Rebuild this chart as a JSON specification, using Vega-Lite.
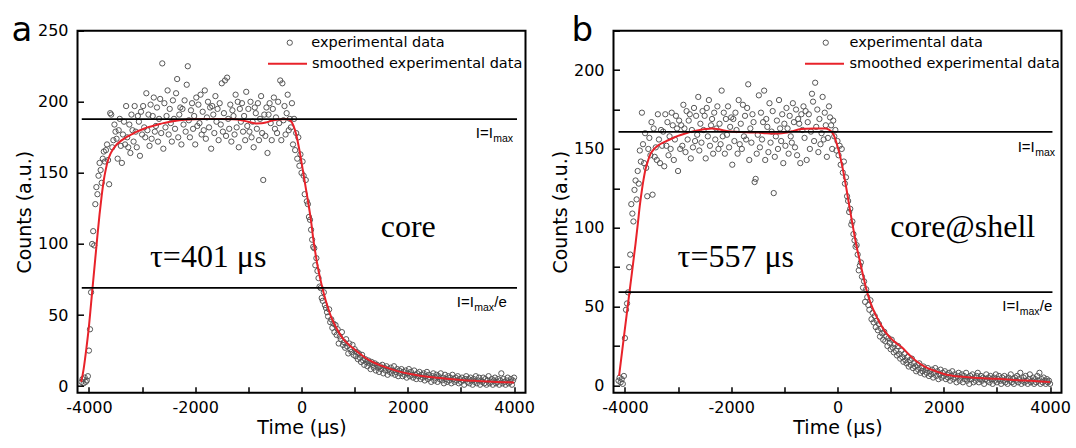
{
"$schema": "https://vega.github.io/schema/vega-lite/v6.json",
"background": "white",
"padding": {"left": 10.5, "top": 12.7, "right": 5, "bottom": 2},
"bounds": "flush",
"spacing": 88,
"datasets": {
"pa": [
{"t":-4140,"c":3},{"t":-4120,"c":5},{"t":-4100,"c":2},{"t":-4080,"c":6},{"t":-4060,"c":3},{"t":-4040,"c":4},{"t":-4020,"c":7},{"t":-4000,"c":25},{"t":-3980,"c":40},{"t":-3960,"c":66},{"t":-3940,"c":100},{"t":-3920,"c":109},{"t":-3900,"c":99},{"t":-3880,"c":128},{"t":-3860,"c":140},{"t":-3840,"c":135},{"t":-3820,"c":148},{"t":-3800,"c":157},{"t":-3780,"c":152},{"t":-3760,"c":143},{"t":-3740,"c":160},{"t":-3720,"c":165},{"t":-3700,"c":158},{"t":-3680,"c":166},{"t":-3660,"c":170},{"t":-3640,"c":159},{"t":-3620,"c":142},{"t":-3600,"c":192},{"t":-3580,"c":191},{"t":-3560,"c":168},{"t":-3540,"c":173},{"t":-3520,"c":184},{"t":-3500,"c":179},
{"t":-3480,"c":174},{"t":-3460,"c":160},{"t":-3440,"c":180},{"t":-3420,"c":188},{"t":-3400,"c":169},{"t":-3380,"c":157},{"t":-3360,"c":177},{"t":-3340,"c":186},{"t":-3320,"c":170},{"t":-3300,"c":197},{"t":-3280,"c":175},{"t":-3260,"c":168},{"t":-3240,"c":184},{"t":-3220,"c":164},{"t":-3200,"c":191},{"t":-3180,"c":180},{"t":-3160,"c":172},{"t":-3140,"c":197},{"t":-3120,"c":179},{"t":-3100,"c":168},{"t":-3080,"c":190},{"t":-3060,"c":186},{"t":-3040,"c":162},{"t":-3020,"c":193},{"t":-3000,"c":177},{"t":-2980,"c":197},{"t":-2960,"c":182},{"t":-2940,"c":175},{"t":-2920,"c":206},{"t":-2900,"c":180},{"t":-2880,"c":191},{"t":-2860,"c":169},{"t":-2840,"c":198},{"t":-2820,"c":174},{"t":-2800,"c":190},{"t":-2780,"c":203},{"t":-2760,"c":179},{"t":-2740,"c":183},{"t":-2720,"c":196},{"t":-2700,"c":172},{"t":-2680,"c":188},{"t":-2660,"c":202},{"t":-2640,"c":178},{"t":-2620,"c":227},{"t":-2600,"c":167},{"t":-2580,"c":199},{"t":-2560,"c":182},{"t":-2540,"c":190},{"t":-2520,"c":208},{"t":-2500,"c":177},{"t":-2480,"c":195},{"t":-2460,"c":185},{"t":-2440,"c":172},{"t":-2420,"c":201},{"t":-2400,"c":188},{"t":-2380,"c":181},{"t":-2360,"c":206},{"t":-2340,"c":216},{"t":-2320,"c":175},{"t":-2300,"c":191},{"t":-2280,"c":196},{"t":-2260,"c":170},{"t":-2240,"c":195},{"t":-2220,"c":184},{"t":-2200,"c":201},{"t":-2180,"c":179},{"t":-2160,"c":212},{"t":-2140,"c":225},{"t":-2120,"c":187},{"t":-2100,"c":175},{"t":-2080,"c":194},{"t":-2060,"c":199},{"t":-2040,"c":181},{"t":-2020,"c":190},{"t":-2000,"c":170},{"t":-1980,"c":203},{"t":-1960,"c":183},{"t":-1940,"c":198},{"t":-1920,"c":185},{"t":-1900,"c":205},{"t":-1880,"c":177},{"t":-1860,"c":193},{"t":-1840,"c":180},{"t":-1820,"c":208},{"t":-1800,"c":174},{"t":-1780,"c":189},{"t":-1760,"c":200},{"t":-1740,"c":182},{"t":-1720,"c":196},{"t":-1700,"c":167},{"t":-1680,"c":197},{"t":-1660,"c":191},{"t":-1640,"c":178},{"t":-1620,"c":204},{"t":-1600,"c":186},{"t":-1580,"c":195},{"t":-1560,"c":173},{"t":-1540,"c":199},{"t":-1520,"c":184},{"t":-1500,"c":213},{"t":-1480,"c":179},{"t":-1460,"c":192},{"t":-1440,"c":215},{"t":-1420,"c":176},{"t":-1400,"c":217},{"t":-1380,"c":188},{"t":-1360,"c":181},{"t":-1340,"c":198},{"t":-1320,"c":172},{"t":-1300,"c":194},{"t":-1280,"c":190},{"t":-1260,"c":177},{"t":-1240,"c":205},{"t":-1220,"c":182},{"t":-1200,"c":200},{"t":-1180,"c":168},{"t":-1160,"c":195},{"t":-1140,"c":186},{"t":-1120,"c":199},{"t":-1100,"c":179},{"t":-1080,"c":190},{"t":-1060,"c":173},{"t":-1040,"c":207},{"t":-1020,"c":183},{"t":-1000,"c":195},{"t":-980,"c":179},{"t":-960,"c":200},{"t":-940,"c":175},{"t":-920,"c":186},{"t":-900,"c":168},{"t":-880,"c":196},{"t":-860,"c":192},{"t":-840,"c":181},{"t":-820,"c":199},{"t":-800,"c":173},{"t":-780,"c":188},{"t":-760,"c":204},{"t":-740,"c":178},{"t":-720,"c":145},{"t":-700,"c":191},{"t":-680,"c":176},{"t":-660,"c":196},{"t":-640,"c":164},{"t":-620,"c":191},{"t":-600,"c":199},{"t":-580,"c":185},{"t":-560,"c":173},{"t":-540,"c":195},{"t":-520,"c":203},{"t":-500,"c":181},{"t":-480,"c":189},{"t":-460,"c":178},{"t":-440,"c":200},{"t":-420,"c":185},{"t":-400,"c":215},{"t":-380,"c":173},{"t":-360,"c":213},{"t":-340,"c":187},{"t":-320,"c":197},{"t":-300,"c":177},{"t":-280,"c":192},{"t":-260,"c":205},{"t":-240,"c":180},{"t":-220,"c":188},{"t":-200,"c":182},{"t":-180,"c":199},
{"t":-160,"c":170},{"t":-140,"c":188},{"t":-120,"c":166},{"t":-100,"c":178},{"t":-80,"c":160},{"t":-60,"c":175},{"t":-40,"c":155},{"t":-20,"c":163},{"t":0,"c":150},{"t":20,"c":158},{"t":40,"c":148},{"t":60,"c":135},{"t":80,"c":145},{"t":100,"c":130},{"t":120,"c":128},{"t":140,"c":119},{"t":160,"c":117},{"t":180,"c":110},{"t":200,"c":103},{"t":220,"c":98},{"t":240,"c":97},{"t":260,"c":85},{"t":280,"c":90},{"t":300,"c":81},{"t":320,"c":76},{"t":340,"c":70},{"t":360,"c":69},{"t":380,"c":62},{"t":400,"c":60},{"t":420,"c":66},{"t":440,"c":57},{"t":460,"c":55},{"t":480,"c":52},{"t":500,"c":49},{"t":520,"c":54},{"t":540,"c":45},{"t":560,"c":47},{"t":580,"c":41},{"t":600,"c":44},{"t":620,"c":38},{"t":640,"c":43},{"t":660,"c":36},{"t":680,"c":40},{"t":700,"c":30},{"t":720,"c":35},{"t":740,"c":33},{"t":760,"c":38},{"t":780,"c":29},{"t":800,"c":31},{"t":820,"c":27},{"t":840,"c":33},{"t":860,"c":28},{"t":880,"c":23},{"t":900,"c":30},{"t":920,"c":26},{"t":940,"c":24},{"t":960,"c":29},{"t":980,"c":22},{"t":1000,"c":26},{"t":1020,"c":21},{"t":1040,"c":24},{"t":1060,"c":19},{"t":1080,"c":23},{"t":1100,"c":20},{"t":1120,"c":17},{"t":1140,"c":22},{"t":1160,"c":18},{"t":1180,"c":15},{"t":1200,"c":19},{"t":1220,"c":17},{"t":1240,"c":14},{"t":1260,"c":18},{"t":1280,"c":16},{"t":1300,"c":12},{"t":1320,"c":17},{"t":1340,"c":15},{"t":1360,"c":13},{"t":1380,"c":16},{"t":1400,"c":11},{"t":1420,"c":15},{"t":1440,"c":13},{"t":1460,"c":10},{"t":1480,"c":14},{"t":1500,"c":12},{"t":1520,"c":15},{"t":1540,"c":9},{"t":1560,"c":13},{"t":1580,"c":11},{"t":1600,"c":14},{"t":1620,"c":8},{"t":1640,"c":12},{"t":1660,"c":10},{"t":1680,"c":13},{"t":1700,"c":9},{"t":1720,"c":11},{"t":1740,"c":14},{"t":1760,"c":8},{"t":1780,"c":10},{"t":1800,"c":12},{"t":1820,"c":7},{"t":1840,"c":11},{"t":1860,"c":9},{"t":1880,"c":12},{"t":1900,"c":7},{"t":1920,"c":10},{"t":1940,"c":8},{"t":1960,"c":11},{"t":1980,"c":6},{"t":2000,"c":9},{"t":2020,"c":12},{"t":2040,"c":7},{"t":2060,"c":10},{"t":2080,"c":8},{"t":2100,"c":6},{"t":2120,"c":11},{"t":2140,"c":8},{"t":2160,"c":5},{"t":2180,"c":9},{"t":2200,"c":7},{"t":2220,"c":10},{"t":2240,"c":5},{"t":2260,"c":8},{"t":2280,"c":6},{"t":2300,"c":9},{"t":2320,"c":4},{"t":2340,"c":7},{"t":2360,"c":10},{"t":2380,"c":5},{"t":2400,"c":8},{"t":2420,"c":6},{"t":2440,"c":3},{"t":2460,"c":7},{"t":2480,"c":9},{"t":2500,"c":4},{"t":2520,"c":6},{"t":2540,"c":8},{"t":2560,"c":3},{"t":2580,"c":7},{"t":2600,"c":5},{"t":2620,"c":9},{"t":2640,"c":4},{"t":2660,"c":6},{"t":2680,"c":2},{"t":2700,"c":8},{"t":2720,"c":5},{"t":2740,"c":3},{"t":2760,"c":7},{"t":2780,"c":4},{"t":2800,"c":6},{"t":2820,"c":2},{"t":2840,"c":8},{"t":2860,"c":5},{"t":2880,"c":3},{"t":2900,"c":6},{"t":2920,"c":4},{"t":2940,"c":7},{"t":2960,"c":2},{"t":2980,"c":5},{"t":3000,"c":3},{"t":3020,"c":6},{"t":3040,"c":4},{"t":3060,"c":1},{"t":3080,"c":5},{"t":3100,"c":7},{"t":3120,"c":3},{"t":3140,"c":5},{"t":3160,"c":2},{"t":3180,"c":6},{"t":3200,"c":4},{"t":3220,"c":1},{"t":3240,"c":5},{"t":3260,"c":3},{"t":3280,"c":7},{"t":3300,"c":2},{"t":3320,"c":4},{"t":3340,"c":6},{"t":3360,"c":1},{"t":3380,"c":4},{"t":3400,"c":3},{"t":3420,"c":6},{"t":3440,"c":2},{"t":3460,"c":5},{"t":3480,"c":1},{"t":3500,"c":4},{"t":3520,"c":7},{"t":3540,"c":2},{"t":3560,"c":3},{"t":3580,"c":5},{"t":3600,"c":1},{"t":3620,"c":4},{"t":3640,"c":6},{"t":3660,"c":2},{"t":3680,"c":3},{"t":3700,"c":5},{"t":3720,"c":1},{"t":3740,"c":4},{"t":3760,"c":9},{"t":3780,"c":2},{"t":3800,"c":5},{"t":3820,"c":3},{"t":3840,"c":1},{"t":3860,"c":4},{"t":3880,"c":6},{"t":3900,"c":2},{"t":3920,"c":3},{"t":3940,"c":5},{"t":3960,"c":1},{"t":3980,"c":4},{"t":4000,"c":6}
],
"sa": [
{"t":-4145,"c":3},{"t":-4100,"c":12},{"t":-4050,"c":26},{"t":-4000,"c":42},{"t":-3960,"c":58},{"t":-3920,"c":74},{"t":-3880,"c":90},{"t":-3840,"c":106},{"t":-3800,"c":121},{"t":-3760,"c":134},{"t":-3720,"c":145},{"t":-3680,"c":153},{"t":-3640,"c":159},{"t":-3600,"c":163},{"t":-3550,"c":166.5},{"t":-3500,"c":169},{"t":-3400,"c":172.5},{"t":-3300,"c":175},{"t":-3200,"c":177},{"t":-3100,"c":179},{"t":-3000,"c":180.5},{"t":-2900,"c":182},{"t":-2800,"c":183},{"t":-2700,"c":184},{"t":-2600,"c":185},{"t":-2500,"c":185.8},{"t":-2400,"c":186.5},{"t":-2300,"c":187},{"t":-2200,"c":187.4},{"t":-2000,"c":187.8},{"t":-1500,"c":187.9},{"t":-1300,"c":187.7},{"t":-1150,"c":187.2},{"t":-1050,"c":186.4},{"t":-950,"c":185.4},{"t":-850,"c":184.8},{"t":-750,"c":184.9},{"t":-650,"c":185.7},{"t":-550,"c":186.8},{"t":-450,"c":187.5},{"t":-350,"c":187.8},{"t":-260,"c":187.8},{"t":-200,"c":186.5},{"t":-150,"c":183},{"t":-100,"c":177},{"t":-60,"c":170},{"t":-20,"c":162},{"t":20,"c":153},{"t":60,"c":144},{"t":100,"c":135},{"t":140,"c":126},{"t":180,"c":116},{"t":220,"c":104},{"t":260,"c":94},{"t":300,"c":85},{"t":350,"c":76},{"t":400,"c":68},{"t":450,"c":61},{"t":500,"c":55},{"t":560,"c":48.5},{"t":620,"c":43.5},{"t":700,"c":38},{"t":800,"c":32.5},{"t":900,"c":28.8},{"t":1000,"c":25.8},{"t":1100,"c":22.8},{"t":1200,"c":20},{"t":1350,"c":16.8},{"t":1500,"c":14.4},{"t":1700,"c":11.8},{"t":1900,"c":9.7},{"t":2000,"c":8.9},{"t":2200,"c":7.5},{"t":2500,"c":6},{"t":2800,"c":5},{"t":3000,"c":4.4},{"t":3300,"c":3.7},{"t":3600,"c":3.1},{"t":4000,"c":2.6}
],
"pb": [
{"t":-4120,"c":3},{"t":-4100,"c":5},{"t":-4080,"c":2},{"t":-4060,"c":4},{"t":-4040,"c":1},{"t":-4020,"c":6},{"t":-4000,"c":30},{"t":-3980,"c":48},{"t":-3960,"c":52},{"t":-3940,"c":59},{"t":-3920,"c":75},{"t":-3900,"c":83},{"t":-3880,"c":115},{"t":-3860,"c":109},{"t":-3840,"c":104},{"t":-3820,"c":124},{"t":-3800,"c":130},{"t":-3780,"c":118},{"t":-3760,"c":136},{"t":-3740,"c":128},{"t":-3720,"c":149},{"t":-3700,"c":142},{"t":-3680,"c":173},{"t":-3660,"c":153},{"t":-3640,"c":141},{"t":-3620,"c":160},{"t":-3600,"c":138},{"t":-3580,"c":120},{"t":-3560,"c":150},{"t":-3540,"c":157},{"t":-3520,"c":146},{"t":-3500,"c":167},{"t":-3480,"c":121},
{"t":-3460,"c":163},{"t":-3440,"c":145},{"t":-3420,"c":151},{"t":-3400,"c":143},{"t":-3380,"c":172},{"t":-3360,"c":156},{"t":-3340,"c":141},{"t":-3320,"c":162},{"t":-3300,"c":152},{"t":-3280,"c":161},{"t":-3260,"c":139},{"t":-3240,"c":172},{"t":-3220,"c":152},{"t":-3200,"c":167},{"t":-3180,"c":146},{"t":-3160,"c":158},{"t":-3140,"c":150},{"t":-3120,"c":173},{"t":-3100,"c":165},{"t":-3080,"c":143},{"t":-3060,"c":156},{"t":-3040,"c":171},{"t":-3020,"c":163},{"t":-3000,"c":136},{"t":-2980,"c":168},{"t":-2960,"c":150},{"t":-2940,"c":165},{"t":-2920,"c":152},{"t":-2900,"c":178},{"t":-2880,"c":163},{"t":-2860,"c":148},{"t":-2840,"c":174},{"t":-2820,"c":156},{"t":-2800,"c":168},{"t":-2780,"c":172},{"t":-2760,"c":144},{"t":-2740,"c":162},{"t":-2720,"c":151},{"t":-2700,"c":176},{"t":-2680,"c":155},{"t":-2660,"c":171},{"t":-2640,"c":159},{"t":-2620,"c":183},{"t":-2600,"c":149},{"t":-2580,"c":166},{"t":-2560,"c":154},{"t":-2540,"c":174},{"t":-2520,"c":162},{"t":-2500,"c":171},{"t":-2480,"c":144},{"t":-2460,"c":176},{"t":-2440,"c":158},{"t":-2420,"c":181},{"t":-2400,"c":152},{"t":-2380,"c":165},{"t":-2360,"c":169},{"t":-2340,"c":147},{"t":-2320,"c":173},{"t":-2300,"c":156},{"t":-2280,"c":163},{"t":-2260,"c":177},{"t":-2240,"c":150},{"t":-2220,"c":166},{"t":-2200,"c":153},{"t":-2180,"c":187},{"t":-2160,"c":158},{"t":-2140,"c":173},{"t":-2120,"c":147},{"t":-2100,"c":169},{"t":-2080,"c":159},{"t":-2060,"c":177},{"t":-2040,"c":151},{"t":-2020,"c":164},{"t":-2000,"c":170},{"t":-1980,"c":140},{"t":-1960,"c":169},{"t":-1940,"c":155},{"t":-1920,"c":173},{"t":-1900,"c":162},{"t":-1880,"c":147},{"t":-1860,"c":181},{"t":-1840,"c":153},{"t":-1820,"c":166},{"t":-1800,"c":150},{"t":-1780,"c":178},{"t":-1760,"c":158},{"t":-1740,"c":171},{"t":-1720,"c":156},{"t":-1700,"c":176},{"t":-1680,"c":191},{"t":-1660,"c":143},{"t":-1640,"c":163},{"t":-1620,"c":154},{"t":-1600,"c":172},{"t":-1580,"c":167},{"t":-1560,"c":129},{"t":-1540,"c":131},{"t":-1520,"c":147},{"t":-1500,"c":159},{"t":-1480,"c":184},{"t":-1460,"c":151},{"t":-1440,"c":173},{"t":-1420,"c":156},{"t":-1400,"c":167},{"t":-1380,"c":187},{"t":-1360,"c":143},{"t":-1340,"c":169},{"t":-1320,"c":164},{"t":-1300,"c":148},{"t":-1280,"c":179},{"t":-1260,"c":154},{"t":-1240,"c":161},{"t":-1220,"c":174},{"t":-1200,"c":122},{"t":-1180,"c":145},{"t":-1160,"c":158},{"t":-1140,"c":168},{"t":-1120,"c":150},{"t":-1100,"c":181},{"t":-1080,"c":163},{"t":-1060,"c":155},{"t":-1040,"c":172},{"t":-1020,"c":141},{"t":-1000,"c":166},{"t":-980,"c":152},{"t":-960,"c":176},{"t":-940,"c":163},{"t":-920,"c":147},{"t":-900,"c":171},{"t":-880,"c":158},{"t":-860,"c":154},{"t":-840,"c":179},{"t":-820,"c":167},{"t":-800,"c":151},{"t":-780,"c":175},{"t":-760,"c":146},{"t":-740,"c":169},{"t":-720,"c":166},{"t":-700,"c":141},{"t":-680,"c":172},{"t":-660,"c":162},{"t":-640,"c":177},{"t":-620,"c":157},{"t":-600,"c":174},{"t":-580,"c":143},{"t":-560,"c":167},{"t":-540,"c":172},{"t":-520,"c":150},{"t":-500,"c":161},{"t":-480,"c":185},{"t":-460,"c":180},{"t":-440,"c":155},{"t":-420,"c":192},{"t":-400,"c":164},{"t":-380,"c":175},{"t":-360,"c":148},{"t":-340,"c":169},{"t":-320,"c":153},{"t":-300,"c":160},{"t":-280,"c":183},{"t":-260,"c":156},{"t":-240,"c":173},{"t":-220,"c":165},{"t":-200,"c":145},{"t":-180,"c":157},{"t":-160,"c":177},{"t":-140,"c":170},
{"t":-120,"c":165},{"t":-100,"c":150},{"t":-80,"c":168},{"t":-60,"c":158},{"t":-40,"c":162},{"t":-20,"c":149},{"t":0,"c":155},{"t":20,"c":146},{"t":40,"c":152},{"t":60,"c":140},{"t":80,"c":150},{"t":100,"c":135},{"t":120,"c":142},{"t":140,"c":128},{"t":160,"c":132},{"t":180,"c":120},{"t":200,"c":117},{"t":220,"c":110},{"t":240,"c":112},{"t":260,"c":102},{"t":280,"c":104},{"t":300,"c":96},{"t":320,"c":92},{"t":340,"c":88},{"t":360,"c":89},{"t":380,"c":83},{"t":400,"c":73},{"t":420,"c":76},{"t":440,"c":78},{"t":460,"c":69},{"t":480,"c":62},{"t":500,"c":66},{"t":520,"c":53},{"t":540,"c":61},{"t":560,"c":56},{"t":580,"c":51},{"t":600,"c":48},{"t":620,"c":54},{"t":640,"c":42},{"t":660,"c":46},{"t":680,"c":40},{"t":700,"c":44},{"t":720,"c":37},{"t":740,"c":41},{"t":760,"c":35},{"t":780,"c":39},{"t":800,"c":31},{"t":820,"c":36},{"t":840,"c":33},{"t":860,"c":29},{"t":880,"c":34},{"t":900,"c":28},{"t":920,"c":31},{"t":940,"c":25},{"t":960,"c":30},{"t":980,"c":27},{"t":1000,"c":23},{"t":1020,"c":29},{"t":1040,"c":24},{"t":1060,"c":21},{"t":1080,"c":26},{"t":1100,"c":22},{"t":1120,"c":19},{"t":1140,"c":25},{"t":1160,"c":20},{"t":1180,"c":17},{"t":1200,"c":22},{"t":1220,"c":18},{"t":1240,"c":15},{"t":1260,"c":20},{"t":1280,"c":16},{"t":1300,"c":14},{"t":1320,"c":18},{"t":1340,"c":12},{"t":1360,"c":16},{"t":1380,"c":13},{"t":1400,"c":17},{"t":1420,"c":11},{"t":1440,"c":14},{"t":1460,"c":12},{"t":1480,"c":9},{"t":1500,"c":13},{"t":1520,"c":10},{"t":1540,"c":14},{"t":1560,"c":8},{"t":1580,"c":11},{"t":1600,"c":9},{"t":1620,"c":12},{"t":1640,"c":7},{"t":1660,"c":10},{"t":1680,"c":8},{"t":1700,"c":11},{"t":1720,"c":6},{"t":1740,"c":9},{"t":1760,"c":7},{"t":1780,"c":10},{"t":1800,"c":5},{"t":1820,"c":8},{"t":1840,"c":11},{"t":1860,"c":6},{"t":1880,"c":9},{"t":1900,"c":4},{"t":1920,"c":7},{"t":1940,"c":10},{"t":1960,"c":5},{"t":1980,"c":8},{"t":2000,"c":6},{"t":2020,"c":9},{"t":2040,"c":4},{"t":2060,"c":7},{"t":2080,"c":5},{"t":2100,"c":8},{"t":2120,"c":3},{"t":2140,"c":6},{"t":2160,"c":9},{"t":2180,"c":4},{"t":2200,"c":7},{"t":2220,"c":5},{"t":2240,"c":2},{"t":2260,"c":6},{"t":2280,"c":8},{"t":2300,"c":3},{"t":2320,"c":5},{"t":2340,"c":7},{"t":2360,"c":2},{"t":2380,"c":6},{"t":2400,"c":4},{"t":2420,"c":8},{"t":2440,"c":3},{"t":2460,"c":5},{"t":2480,"c":1},{"t":2500,"c":6},{"t":2520,"c":4},{"t":2540,"c":7},{"t":2560,"c":2},{"t":2580,"c":5},{"t":2600,"c":3},{"t":2620,"c":6},{"t":2640,"c":8},{"t":2660,"c":2},{"t":2680,"c":4},{"t":2700,"c":6},{"t":2720,"c":3},{"t":2740,"c":5},{"t":2760,"c":1},{"t":2780,"c":4},{"t":2800,"c":7},{"t":2820,"c":3},{"t":2840,"c":5},{"t":2860,"c":2},{"t":2880,"c":6},{"t":2900,"c":4},{"t":2920,"c":1},{"t":2940,"c":5},{"t":2960,"c":3},{"t":2980,"c":7},{"t":3000,"c":2},{"t":3020,"c":4},{"t":3040,"c":6},{"t":3060,"c":3},{"t":3080,"c":1},{"t":3100,"c":5},{"t":3120,"c":3},{"t":3140,"c":6},{"t":3160,"c":2},{"t":3180,"c":4},{"t":3200,"c":1},{"t":3220,"c":5},{"t":3240,"c":3},{"t":3260,"c":7},{"t":3280,"c":2},{"t":3300,"c":4},{"t":3320,"c":1},{"t":3340,"c":5},{"t":3360,"c":3},{"t":3380,"c":6},{"t":3400,"c":2},{"t":3420,"c":4},{"t":3440,"c":8},{"t":3460,"c":1},{"t":3480,"c":3},{"t":3500,"c":5},{"t":3520,"c":2},{"t":3540,"c":6},{"t":3560,"c":3},{"t":3580,"c":1},{"t":3600,"c":4},{"t":3620,"c":7},{"t":3640,"c":2},{"t":3660,"c":3},{"t":3680,"c":5},{"t":3700,"c":1},{"t":3720,"c":4},{"t":3740,"c":2},{"t":3760,"c":6},{"t":3780,"c":3},{"t":3800,"c":8},{"t":3820,"c":1},{"t":3840,"c":4},{"t":3860,"c":2},{"t":3880,"c":5},{"t":3900,"c":3},{"t":3920,"c":1},{"t":3940,"c":4},{"t":3960,"c":2},{"t":3980,"c":3},{"t":4000,"c":1}
],
"sb": [
{"t":-4110,"c":6},{"t":-4000,"c":36},{"t":-3900,"c":63},{"t":-3800,"c":90},{"t":-3756,"c":103},{"t":-3720,"c":114},{"t":-3680,"c":124},{"t":-3650,"c":130.5},{"t":-3617,"c":136.5},{"t":-3570,"c":142},{"t":-3523,"c":146.5},{"t":-3450,"c":150},{"t":-3367,"c":152.4},{"t":-3250,"c":154.5},{"t":-3116,"c":156.6},{"t":-3000,"c":158.3},{"t":-2865,"c":159.8},{"t":-2740,"c":161},{"t":-2615,"c":161.9},{"t":-2490,"c":162.6},{"t":-2365,"c":163},{"t":-2240,"c":162.5},{"t":-2113,"c":161.5},{"t":-2000,"c":161},{"t":-1863,"c":160.8},{"t":-1650,"c":160.5},{"t":-1487,"c":160.4},{"t":-1350,"c":160},{"t":-1237,"c":159.8},{"t":-1100,"c":159.8},{"t":-985,"c":160.2},{"t":-860,"c":161.2},{"t":-735,"c":162.3},{"t":-600,"c":162.8},{"t":-421,"c":163},{"t":-233,"c":163},{"t":-160,"c":162.3},{"t":-109,"c":160.8},{"t":-60,"c":158},{"t":-15,"c":153.5},{"t":30,"c":148},{"t":79,"c":140.8},{"t":130,"c":132},{"t":173,"c":123.8},{"t":236,"c":111},{"t":300,"c":99},{"t":360,"c":88},{"t":420,"c":79},{"t":490,"c":68.5},{"t":557,"c":59.2},{"t":620,"c":52.5},{"t":700,"c":46},{"t":800,"c":39.5},{"t":900,"c":34},{"t":1000,"c":30},{"t":1100,"c":27},{"t":1200,"c":24.5},{"t":1350,"c":19.5},{"t":1500,"c":15},{"t":1650,"c":11.8},{"t":1800,"c":9.6},{"t":2000,"c":7.3},{"t":2300,"c":5.6},{"t":2600,"c":4.8},{"t":3000,"c":4.2},{"t":3400,"c":3.3},{"t":3700,"c":2.8},{"t":4000,"c":2.1}
],
"refA": [
{"y":187.8,"x1":-4135,"x2":4055,"lx":3279,"ly":174.4,"pre":"I=I","sub":"max","post":""},
{"y":69.1,"x1":-4135,"x2":4055,"lx":2921,"ly":56,"pre":"I=I","sub":"max","post":"/e"}
],
"refB": [
{"y":160.8,"x1":-4120,"x2":4045,"lx":3390,"ly":148,"pre":"I=I","sub":"max","post":""},
{"y":59.2,"x1":-4120,"x2":4045,"lx":3100,"ly":47,"pre":"I=I","sub":"max","post":"/e"}
],
"noteA": [
{"x":-2851,"y":83.6,"txt":"τ=401 μs"},
{"x":1490,"y":104.7,"txt":"core"}
],
"noteB": [
{"x":-3010,"y":74.9,"txt":"τ=557 μs"},
{"x":994,"y":94,"txt":"core@shell"}
]
},
"hconcat": [
{
"width": 448, "height": 362,
"title": {"text": "a", "anchor": "start", "frame": "group", "dx": -66, "dy": 52, "baseline": "alphabetic", "offset": 0},
"layer": [
{"data": {"name": "pa"},
 "mark": {"type": "point", "filled": false, "size": 28, "strokeWidth": 1, "opacity": 1, "color": "#555555"},
 "encoding": {
  "x": {"field": "t", "type": "quantitative", "title": "Time (μs)", "scale": {"domain": [-4215, 4215], "nice": false, "zero": false},
        "axis": {"values": [-4000,-3000,-2000,-1000,0,1000,2000,3000,4000], "labelExpr": "datum.value % 2000 === 0 ? '' + datum.value : ''", "ticks": true, "tickSize": 6, "offset": -6, "zindex": 1, "labelPadding": 7, "titlePadding": 3}},
  "y": {"field": "c", "type": "quantitative", "title": "Counts (a.u.)", "scale": {"domain": [-4.6, 250], "nice": false, "zero": false},
        "axis": {"values": [0,25,50,75,100,125,150,175,200,225,250], "labelExpr": "datum.value % 50 === 0 ? '' + datum.value : ''", "ticks": true, "tickSize": 6, "offset": -6, "zindex": 1, "labelPadding": 9.5, "titlePadding": 3}},
  "shape": {"datum": "experimental data", "type": "nominal", "scale": {"domain": ["experimental data"], "range": ["circle"]},
        "legend": {"orient": "none", "legendX": 205, "legendY": 4.75, "title": null, "labelFont": "DejaVu Sans", "labelFontSize": 14.5, "labelColor": "black", "labelOffset": 14.3, "labelLimit": 400, "symbolSize": 28, "symbolStrokeColor": "#555555", "symbolFillColor": "transparent", "symbolStrokeWidth": 1, "padding": 0}}
 }},
{"data": {"name": "sa"},
 "mark": {"type": "line", "strokeWidth": 2, "interpolate": "monotone"},
 "encoding": {
  "x": {"field": "t", "type": "quantitative", "title": "Time (μs)"},
  "y": {"field": "c", "type": "quantitative", "title": "Counts (a.u.)"},
  "stroke": {"datum": "smoothed experimental data", "type": "nominal", "scale": {"domain": ["smoothed experimental data"], "range": ["#e8222a"]},
        "legend": {"orient": "none", "legendX": 189.5, "legendY": 12.5, "title": null, "labelFont": "DejaVu Sans", "labelFontSize": 14.5, "labelColor": "black", "labelOffset": 4, "labelLimit": 400, "symbolType": "stroke", "symbolSize": 1521, "symbolStrokeWidth": 2, "padding": 0}}
 }},
{"data": {"name": "refA"},
 "mark": {"type": "rule", "color": "black", "strokeWidth": 1.6},
 "encoding": {
  "x": {"field": "x1", "type": "quantitative", "title": "Time (μs)"},
  "x2": {"field": "x2"},
  "y": {"field": "y", "type": "quantitative", "title": "Counts (a.u.)"}
 }},
{"data": {"name": "refA"},
 "mark": {"type": "text", "align": "left", "baseline": "alphabetic", "font": "Liberation Sans", "fontSize": 15, "color": "black"},
 "encoding": {"x": {"field": "lx", "type": "quantitative", "title": "Time (μs)"}, "y": {"field": "ly", "type": "quantitative", "title": "Counts (a.u.)"}, "text": {"field": "pre"}}},
{"data": {"name": "refA"},
 "mark": {"type": "text", "align": "left", "baseline": "alphabetic", "font": "Liberation Sans", "fontSize": 10.5, "color": "black", "dx": 17.5, "dy": 4},
 "encoding": {"x": {"field": "lx", "type": "quantitative", "title": "Time (μs)"}, "y": {"field": "ly", "type": "quantitative", "title": "Counts (a.u.)"}, "text": {"field": "sub"}}},
{"data": {"name": "refA"},
 "mark": {"type": "text", "align": "left", "baseline": "alphabetic", "font": "Liberation Sans", "fontSize": 15, "color": "black", "dx": 37.5},
 "encoding": {"x": {"field": "lx", "type": "quantitative", "title": "Time (μs)"}, "y": {"field": "ly", "type": "quantitative", "title": "Counts (a.u.)"}, "text": {"field": "post"}}},
{"data": {"name": "noteA"},
 "mark": {"type": "text", "align": "left", "baseline": "alphabetic", "font": "Liberation Serif", "fontSize": 32, "color": "black"},
 "encoding": {"x": {"field": "x", "type": "quantitative", "title": "Time (μs)"}, "y": {"field": "y", "type": "quantitative", "title": "Counts (a.u.)"}, "text": {"field": "txt"}}}
]
},
{
"width": 448, "height": 362,
"title": {"text": "b", "anchor": "start", "frame": "group", "dx": -42, "dy": 45, "baseline": "alphabetic", "offset": 0},
"layer": [
{"data": {"name": "pb"},
 "mark": {"type": "point", "filled": false, "size": 28, "strokeWidth": 1, "opacity": 1, "color": "#555555"},
 "encoding": {
  "x": {"field": "t", "type": "quantitative", "title": "Time (μs)", "scale": {"domain": [-4215, 4215], "nice": false, "zero": false},
        "axis": {"values": [-4000,-3000,-2000,-1000,0,1000,2000,3000,4000], "labelExpr": "datum.value % 2000 === 0 ? '' + datum.value : ''", "ticks": true, "tickSize": 6, "offset": -6, "zindex": 1, "labelPadding": 7, "titlePadding": 3}},
  "y": {"field": "c", "type": "quantitative", "title": "Counts (a.u.)", "scale": {"domain": [-4.6, 225], "nice": false, "zero": false},
        "axis": {"values": [0,25,50,75,100,125,150,175,200,225], "labelExpr": "datum.value % 50 === 0 ? '' + datum.value : ''", "ticks": true, "tickSize": 6, "offset": -6, "zindex": 1, "labelPadding": 9.5, "titlePadding": 3}},
  "shape": {"datum": "experimental data", "type": "nominal", "scale": {"domain": ["experimental data"], "range": ["circle"]},
        "legend": {"orient": "none", "legendX": 205, "legendY": 4.75, "title": null, "labelFont": "DejaVu Sans", "labelFontSize": 14.5, "labelColor": "black", "labelOffset": 16.6, "labelLimit": 400, "symbolSize": 28, "symbolStrokeColor": "#555555", "symbolFillColor": "transparent", "symbolStrokeWidth": 1, "padding": 0}}
 }},
{"data": {"name": "sb"},
 "mark": {"type": "line", "strokeWidth": 2, "interpolate": "monotone"},
 "encoding": {
  "x": {"field": "t", "type": "quantitative", "title": "Time (μs)"},
  "y": {"field": "c", "type": "quantitative", "title": "Counts (a.u.)"},
  "stroke": {"datum": "smoothed experimental data", "type": "nominal", "scale": {"domain": ["smoothed experimental data"], "range": ["#e8222a"]},
        "legend": {"orient": "none", "legendX": 190.5, "legendY": 12.5, "title": null, "labelFont": "DejaVu Sans", "labelFontSize": 14.5, "labelColor": "black", "labelOffset": 4.5, "labelLimit": 400, "symbolType": "stroke", "symbolSize": 1521, "symbolStrokeWidth": 2, "padding": 0}}
 }},
{"data": {"name": "refB"},
 "mark": {"type": "rule", "color": "black", "strokeWidth": 1.6},
 "encoding": {
  "x": {"field": "x1", "type": "quantitative", "title": "Time (μs)"},
  "x2": {"field": "x2"},
  "y": {"field": "y", "type": "quantitative", "title": "Counts (a.u.)"}
 }},
{"data": {"name": "refB"},
 "mark": {"type": "text", "align": "left", "baseline": "alphabetic", "font": "Liberation Sans", "fontSize": 15, "color": "black"},
 "encoding": {"x": {"field": "lx", "type": "quantitative", "title": "Time (μs)"}, "y": {"field": "ly", "type": "quantitative", "title": "Counts (a.u.)"}, "text": {"field": "pre"}}},
{"data": {"name": "refB"},
 "mark": {"type": "text", "align": "left", "baseline": "alphabetic", "font": "Liberation Sans", "fontSize": 10.5, "color": "black", "dx": 17.5, "dy": 4},
 "encoding": {"x": {"field": "lx", "type": "quantitative", "title": "Time (μs)"}, "y": {"field": "ly", "type": "quantitative", "title": "Counts (a.u.)"}, "text": {"field": "sub"}}},
{"data": {"name": "refB"},
 "mark": {"type": "text", "align": "left", "baseline": "alphabetic", "font": "Liberation Sans", "fontSize": 15, "color": "black", "dx": 37.5},
 "encoding": {"x": {"field": "lx", "type": "quantitative", "title": "Time (μs)"}, "y": {"field": "ly", "type": "quantitative", "title": "Counts (a.u.)"}, "text": {"field": "post"}}},
{"data": {"name": "noteB"},
 "mark": {"type": "text", "align": "left", "baseline": "alphabetic", "font": "Liberation Serif", "fontSize": 32, "color": "black"},
 "encoding": {"x": {"field": "x", "type": "quantitative", "title": "Time (μs)"}, "y": {"field": "y", "type": "quantitative", "title": "Counts (a.u.)"}, "text": {"field": "txt"}}}
]
}
],
"resolve": {"scale": {"stroke": "independent", "shape": "independent"}, "legend": {"stroke": "independent", "shape": "independent"}},
"config": {
 "view": {"stroke": "black", "strokeWidth": 2},
 "axis": {"domain": false, "grid": false, "labelFont": "DejaVu Sans", "labelFontSize": 16, "labelColor": "black", "titleFont": "DejaVu Sans", "titleFontSize": 19, "titleFontWeight": "normal", "titleColor": "black", "tickColor": "black", "tickWidth": 1.5},
 "title": {"font": "DejaVu Sans", "fontSize": 34, "fontWeight": "normal", "color": "black"}
}
}
